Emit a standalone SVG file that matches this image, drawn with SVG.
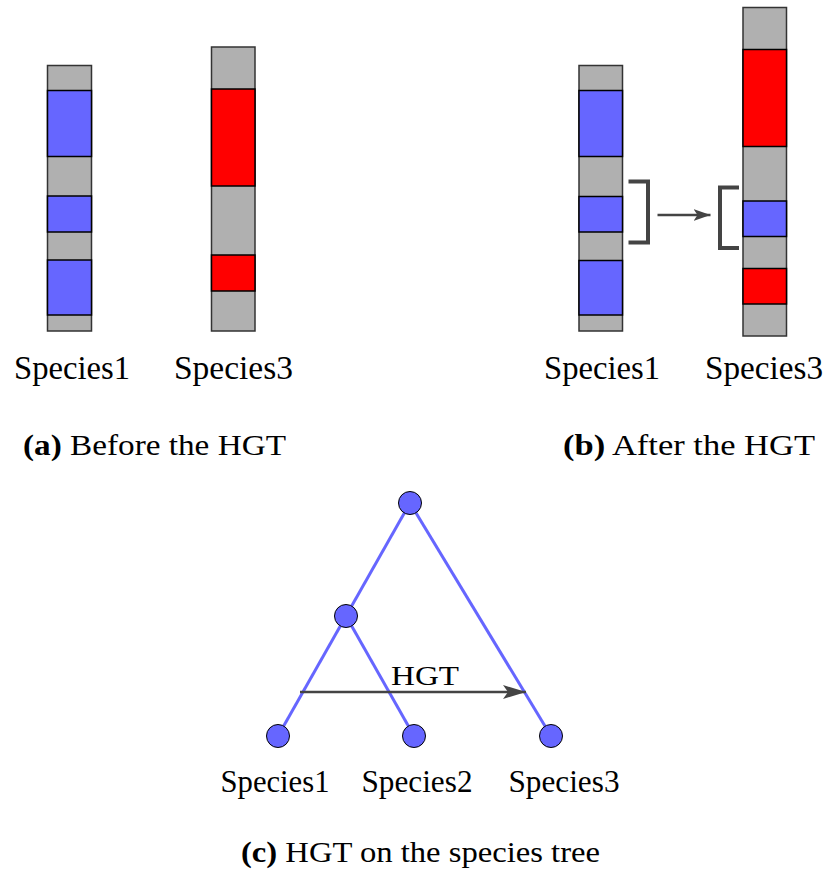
<svg xmlns="http://www.w3.org/2000/svg" width="829" height="870" viewBox="0 0 829 870">
  <style>
    .chrom { fill: #b0b0b0; stroke: #333; stroke-width: 1.5; }
    .blue { fill: #6666ff; stroke: #000; stroke-width: 1.5; }
    .red { fill: #ff0000; stroke: #000; stroke-width: 1.5; }
    .lbl { font-family: "Liberation Serif", "Times New Roman", serif; font-size: 33px; fill: #000; text-anchor: middle; }
    .tlbl { font-family: "Liberation Serif", "Times New Roman", serif; font-size: 31px; fill: #000; text-anchor: middle; }
    .cap { font-family: "Liberation Serif", "Times New Roman", serif; font-size: 29px; fill: #000; }
    .bold { font-weight: bold; }
    .bracket { fill: none; stroke: #444; stroke-width: 4; }
    .arrow { stroke: #444; stroke-width: 2.5; fill: none; }
    .edge { stroke: #6666ff; stroke-width: 3; fill: none; }
    .node { fill: #6666ff; stroke: #000; stroke-width: 1; }
  </style>
  <defs>
    <marker id="head" viewBox="0 0 17 12" refX="17" refY="6" markerWidth="17" markerHeight="12" markerUnits="userSpaceOnUse" orient="auto">
      <path d="M0,0 L17,6 L0,12 L4,6 z" fill="#444"/>
    </marker>
    <marker id="headL" viewBox="0 0 23 14" refX="23" refY="7" markerWidth="23" markerHeight="14" markerUnits="userSpaceOnUse" orient="auto">
      <path d="M0,0 L23,7 L0,14 L5,7 z" fill="#444"/>
    </marker>
  </defs>

  <!-- (a) before the transfer -->
  <g id="a-species1">
    <rect class="chrom" x="47.5" y="65.5" width="44" height="265.5"/>
    <rect class="blue" x="47.5" y="90.5" width="44" height="66"/>
    <rect class="blue" x="47.5" y="196" width="44" height="36"/>
    <rect class="blue" x="47.5" y="260" width="44" height="55"/>
    <text class="lbl" x="72" y="379" textLength="116" lengthAdjust="spacingAndGlyphs">Species1</text>
  </g>
  <g id="a-species3">
    <rect class="chrom" x="211.5" y="47" width="43.5" height="284"/>
    <rect class="red" x="211.5" y="89" width="43.5" height="97"/>
    <rect class="red" x="211.5" y="255" width="43.5" height="36"/>
    <text class="lbl" x="233.5" y="379" textLength="119" lengthAdjust="spacingAndGlyphs">Species3</text>
  </g>
  <text class="cap" x="23" y="455" textLength="263" lengthAdjust="spacingAndGlyphs"><tspan class="bold">(a)</tspan> Before the HGT</text>

  <!-- (b) after the transfer -->
  <g id="b-species1">
    <rect class="chrom" x="579" y="65.5" width="43.5" height="265.5"/>
    <rect class="blue" x="579" y="90.5" width="43.5" height="66"/>
    <rect class="blue" x="579" y="196.5" width="43.5" height="35.5"/>
    <rect class="blue" x="579" y="260.5" width="43.5" height="54.5"/>
    <text class="lbl" x="602" y="379" textLength="116" lengthAdjust="spacingAndGlyphs">Species1</text>
  </g>
  <g id="b-species3">
    <rect class="chrom" x="743" y="7.5" width="43.5" height="328.5"/>
    <rect class="red" x="743" y="49.5" width="43.5" height="97"/>
    <rect class="blue" x="743" y="201" width="43.5" height="35.5"/>
    <rect class="red" x="743" y="268.5" width="43.5" height="35.5"/>
    <text class="lbl" x="764" y="379" textLength="118" lengthAdjust="spacingAndGlyphs">Species3</text>
  </g>
  <g id="b-transfer">
    <path class="bracket" d="M628.5,181.5 H648 V242.5 H628.5"/>
    <path class="bracket" d="M739,187.5 H720 V248 H739"/>
    <line class="arrow" x1="657.5" y1="215" x2="710.5" y2="215" marker-end="url(#head)"/>
  </g>
  <text class="cap" x="563" y="455" textLength="252" lengthAdjust="spacingAndGlyphs"><tspan class="bold">(b)</tspan> After the HGT</text>

  <!-- (c) species tree -->
  <g id="edges">
    <line class="edge" x1="410" y1="503" x2="346" y2="616"/>
    <line class="edge" x1="410" y1="503" x2="551" y2="736"/>
    <line class="edge" x1="346" y1="616" x2="278" y2="736"/>
    <line class="edge" x1="346" y1="616" x2="414" y2="736"/>
    <line class="arrow" x1="300" y1="692" x2="526" y2="692" marker-end="url(#headL)"/>
    <text x="425" y="685" font-family="'Liberation Serif', 'Times New Roman', serif" font-size="28" text-anchor="middle" textLength="68" lengthAdjust="spacingAndGlyphs">HGT</text>
  </g>
  <g id="root"><circle class="node" cx="410" cy="503" r="11.5"/></g>
  <g id="inner"><circle class="node" cx="346" cy="616" r="11.5"/></g>
  <g id="leaf1">
    <circle class="node" cx="278" cy="736" r="11.5"/>
    <text class="tlbl" x="275" y="792" textLength="109" lengthAdjust="spacingAndGlyphs">Species1</text>
  </g>
  <g id="leaf2">
    <circle class="node" cx="414" cy="736" r="11.5"/>
    <text class="tlbl" x="417" y="792" textLength="111" lengthAdjust="spacingAndGlyphs">Species2</text>
  </g>
  <g id="leaf3">
    <circle class="node" cx="551" cy="736" r="11.5"/>
    <text class="tlbl" x="564" y="792" textLength="111" lengthAdjust="spacingAndGlyphs">Species3</text>
  </g>
  <text class="cap" x="241" y="862" textLength="359" lengthAdjust="spacingAndGlyphs"><tspan class="bold">(c)</tspan> HGT on the species tree</text>
</svg>
